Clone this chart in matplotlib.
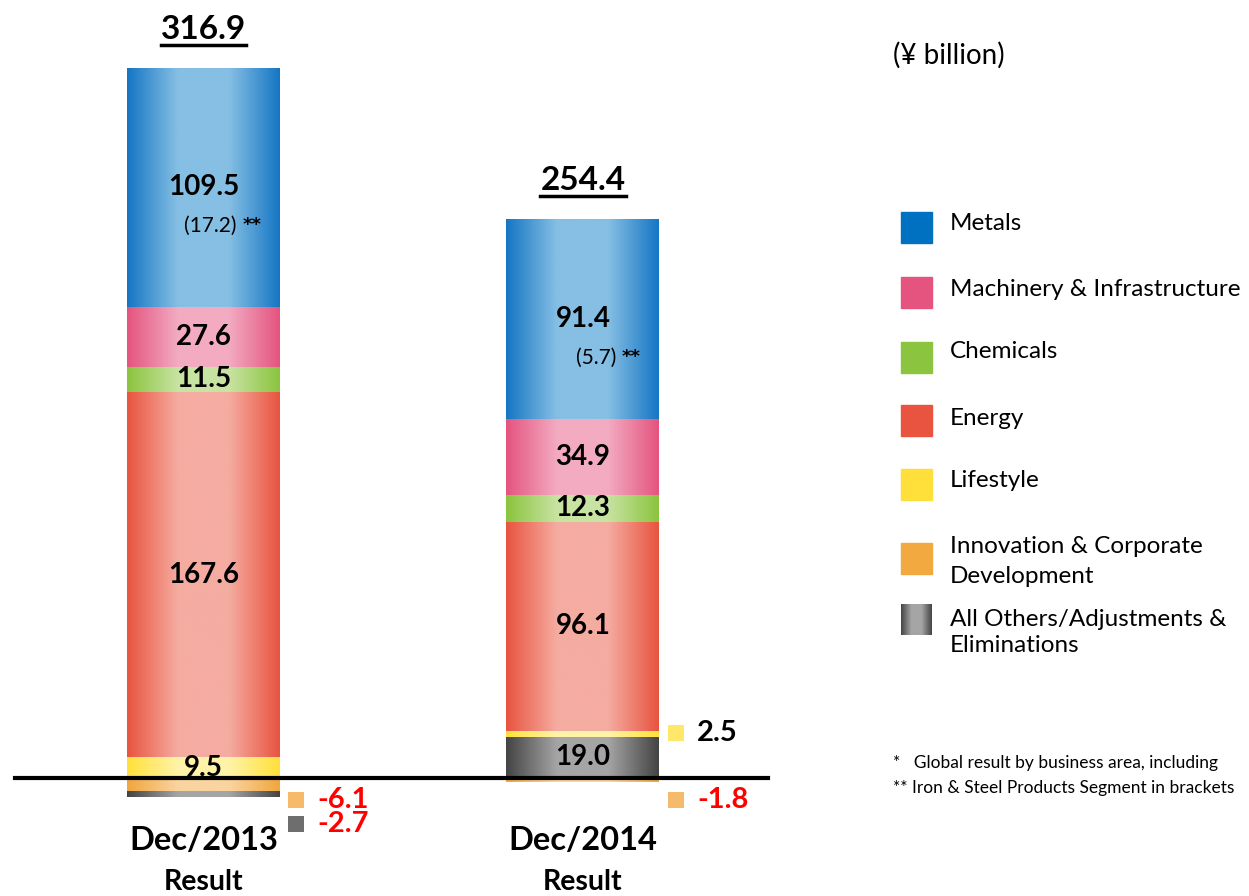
import numpy as np
import matplotlib
matplotlib.use("Agg")
import matplotlib.pyplot as plt
from matplotlib.colors import LinearSegmentedColormap
from matplotlib.patches import Rectangle

# data (¥ billion)
years = ["Dec/2013", "Dec/2014"]
metals = [109.5, 91.4]
machinery = [27.6, 34.9]
chemicals = [11.5, 12.3]
energy = [167.6, 96.1]
lifestyle = [9.5, 2.5]
innovation = [-6.1, -1.8]
others = [-2.7, 19.0]
totals = [316.9, 254.4]
iron_steel = [17.2, 5.7]

legend_labels = ["Metals", "Machinery & Infrastructure", "Chemicals", "Energy",
                 "Lifestyle", "Innovation & Corporate\nDevelopment",
                 "All Others/Adjustments &\nEliminations"]

# (edge colour, centre colour) of each horizontal gradient
STYLE = {
    "metals":     ("#1576c4", "#86bfe4"),
    "machinery":  ("#e4547f", "#f3abc2"),
    "chemicals":  ("#8bc43e", "#c8e3a2"),
    "energy":     ("#e8543f", "#f5aca1"),
    "lifestyle":  ("#ffe03a", "#fff3a8"),
    "innovation": ("#f1a63e", "#fad4a0"),
    "others":     ("#444444", "#a5a5a5"),
}
SOLID = ["#0070c0", "#e4547f", "#8bc43e", "#e8543f", "#ffe03a", "#f2a93f", None]
MARKER = {"lifestyle": "#ffe76a", "innovation": "#f5bb6a", "others": "#6e6e6e"}

plt.rcParams["font.family"] = ["Lato", "Noto Sans CJK JP", "DejaVu Sans"]

W, H = 1249, 896
fig = plt.figure(figsize=(W / 100, H / 100), dpi=100)
ax = fig.add_axes([0, 0, 1, 1])
ax.axis("off")

x = np.arange(len(years))
width = 0.403
gradient = np.linspace(0, 1, 256).reshape(1, -1)


def cmap_for(key):
    edge, mid = STYLE[key]
    return LinearSegmentedColormap.from_list(key, [edge, mid, mid, edge])


def grad_bar(key, vals, bottoms):
    bars = ax.bar(x, vals, width, bottom=bottoms, color="none", edgecolor="none")
    for p in bars.patches:
        x0, y0 = p.get_x(), p.get_y()
        ax.imshow(gradient, extent=[x0, x0 + p.get_width(), y0, y0 + p.get_height()],
                  cmap=cmap_for(key), aspect="auto", zorder=2, interpolation="bicubic")
    return bars


series = {"metals": metals, "machinery": machinery, "chemicals": chemicals,
          "energy": energy, "lifestyle": lifestyle, "innovation": innovation,
          "others": others}
pos_order = ["others", "lifestyle", "energy", "chemicals", "machinery", "metals"]
neg_order = ["innovation", "others"]

pos_bottom = np.zeros(len(years))
neg_bottom = np.zeros(len(years))
segs = []  # (key, index, value, bottom)
for key in pos_order:
    vals = np.array(series[key])
    v = np.where(vals > 0, vals, 0)
    grad_bar(key, v, pos_bottom)
    for i in range(len(years)):
        if v[i] > 0:
            segs.append((key, i, v[i], pos_bottom[i]))
    pos_bottom += v
for key in neg_order:
    vals = np.array(series[key])
    v = np.where(vals < 0, vals, 0)
    grad_bar(key, v, neg_bottom)
    for i in range(len(years)):
        if v[i] < 0:
            segs.append((key, i, v[i], neg_bottom[i]))
    neg_bottom += v

# segment labels
neg_count = [0, 0]
for key, i, v, b in segs:
    if abs(v) >= 9:
        yc = b + v / 2
        ax.text(x[i], yc, f"{v:.1f}", ha="center", va="center", fontsize=20,
                fontweight="bold", color="black", zorder=5)
        if key == "metals":
            ax.annotate(f"({iron_steel[i]:.1f})", (x[i], yc), xytext=(24, -28),
                        textcoords="offset points", ha="right", va="center",
                        fontsize=15, zorder=5)
            ax.annotate("**", (x[i], yc), xytext=(28, -27),
                        textcoords="offset points", ha="left", va="center",
                        fontsize=13, fontweight="bold", family=["DejaVu Sans"],
                        zorder=5)
    else:
        if v > 0:
            ys = b + v / 2 + 0.5
        else:
            ys = -10 - 11 * neg_count[i]
            neg_count[i] += 1
        xs = x[i] + width / 2
        ax.scatter([xs + 0.043], [ys], marker="s", s=125, color=MARKER[key],
                   linewidth=0, zorder=5)
        ax.text(xs + 0.1, ys, f"{v:.1f}", ha="left", va="center", fontsize=21,
                fontweight="bold", color="red" if v < 0 else "black", zorder=5)

# totals, underlined
for i, t in enumerate(totals):
    top = pos_bottom[i]
    ax.text(x[i], top + 11.2, f"{t:.1f}", ha="center", va="bottom", fontsize=24,
            fontweight="bold")
    ax.plot([x[i] - 0.113, x[i] + 0.113], [top + 10.7] * 2, color="black", lw=2.5)

# category labels
for i, yr in enumerate(years):
    ax.text(x[i], -28.5, yr, ha="center", va="center", fontsize=23.5, fontweight="bold")
    ax.text(x[i], -47.5, "Result", ha="center", va="center", fontsize=20.5,
            fontweight="bold")

ax.axhline(0, xmin=15 / W, xmax=768 / W, color="black", lw=3, zorder=4)

# axes limits so the bars land where the reference puts them
ax.set_xlim(-0.536, 2.755)
ax.set_ylim(-54.1, 356.9)

# unit note
fig.text(893 / W, 1 - 55 / H, "(¥ billion)", fontsize=20, va="center")

# legend
leg_y = [228, 293, 357, 420, 484, 558, 619]
text_y = [224, 289, 351, 418, 480, 561.5, 632.5]
spacing = [1.2, 1.2, 1.2, 1.2, 1.2, 1.48, 1.29]
for lab, c, yy, ty, ls in zip(legend_labels, SOLID, leg_y, text_y, spacing):
    if c is None:
        lax = fig.add_axes([901 / W, 1 - (yy + 16) / H, 31 / W, 31 / H])
        lax.imshow(gradient, cmap=cmap_for("others"), aspect="auto")
        lax.axis("off")
    else:
        fig.add_artist(Rectangle((901 / W, 1 - (yy + 15.5) / H), 31 / W, 31 / H,
                                 transform=fig.transFigure, color=c))
    fig.text(950 / W, 1 - ty / H, lab, fontsize=17.5, va="center", linespacing=ls)

# footnotes (run off the right edge, as in the source slide)
fig.text(893 / W, 1 - 763 / H, "*   Global result by business area, including",
         fontsize=12.5, va="center")
fig.text(893 / W, 1 - 788 / H, "** Iron & Steel Products Segment in brackets",
         fontsize=12.5, va="center")

fig.savefig("out.png", dpi=100)
